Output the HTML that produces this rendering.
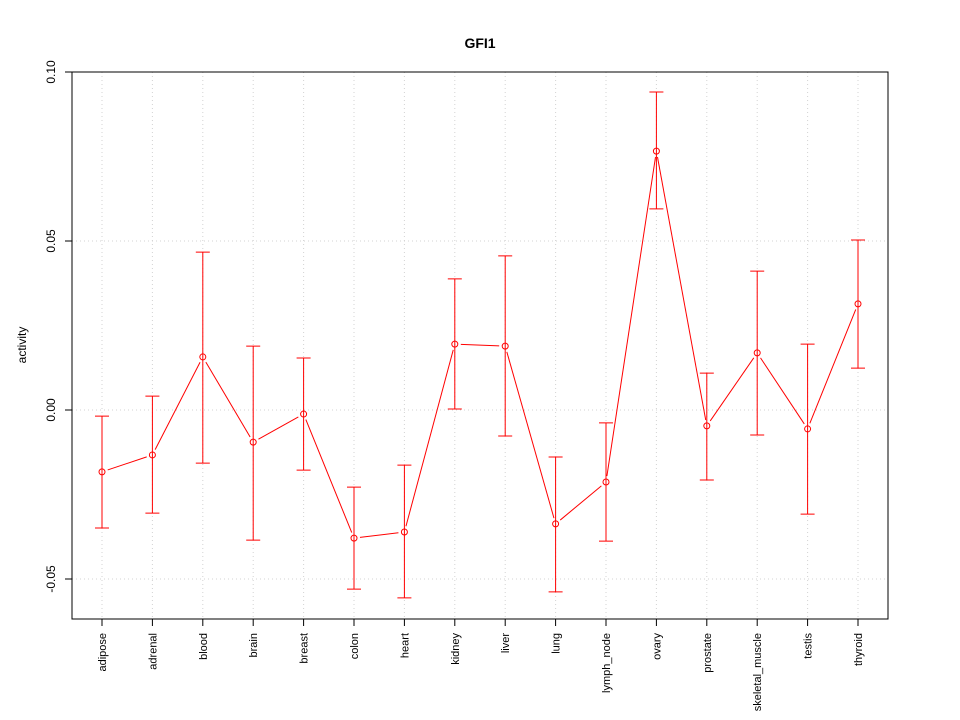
<!DOCTYPE html>
<html><head><meta charset="utf-8"><style>
html,body{margin:0;padding:0;background:#fff;}
svg{display:block;font-family:"Liberation Sans",sans-serif;}
</style></head><body>
<svg id="chart" width="960" height="720" xmlns="http://www.w3.org/2000/svg">
<text x="480" y="48" text-anchor="middle" font-size="14" font-weight="bold">GFI1</text>
<text transform="translate(26,345) rotate(-90)" text-anchor="middle" font-size="12">activity</text>
<g id="grid"></g>
<g id="yaxis"></g>
<g id="xaxis"></g>
<g id="series"></g>
<rect x="72" y="72" width="816" height="547" fill="none" stroke="#000"/>
</svg>
<script>
const categories = ["adipose","adrenal","blood","brain","breast","colon","heart","kidney","liver","lung","lymph_node","ovary","prostate","skeletal_muscle","testis","thyroid"];
const values = [-0.0183,-0.0133,0.0157,-0.0095,-0.0012,-0.0379,-0.0361,0.0195,0.0189,-0.0337,-0.0213,0.0766,-0.0047,0.0169,-0.0056,0.0314];
const upper = [-0.0018,0.0041,0.0467,0.0189,0.0154,-0.0228,-0.0163,0.0388,0.0456,-0.0139,-0.0038,0.0941,0.0109,0.0411,0.0195,0.0503];
const lower = [-0.0349,-0.0305,-0.0157,-0.0385,-0.0178,-0.0530,-0.0556,0.0003,-0.0077,-0.0538,-0.0388,0.0595,-0.0207,-0.0074,-0.0308,0.0124];
const yTicks = [-0.05,0,0.05,0.10];
const yTickLabels = ["-0.05","0.00","0.05","0.10"];

const NS="http://www.w3.org/2000/svg";
const yScale = v => 410 - v*3380;
const xScale = i => 102 + i*(756/(categories.length-1));
function mk(tag, attrs, parent){const e=document.createElementNS(NS,tag);for(const k in attrs)e.setAttribute(k,attrs[k]);parent.appendChild(e);return e;}
const grid=document.getElementById('grid'), ya=document.getElementById('yaxis'), xa=document.getElementById('xaxis'), s=document.getElementById('series');

categories.forEach((c,i)=>{
  const x=xScale(i);
  const g=mk('line',{x1:x,x2:x,y1:72,y2:619,stroke:'#d3d3d3','stroke-dasharray':'1,3'},grid);
  
  
  const t=mk('line',{x1:x,x2:x,y1:619,y2:626,stroke:'#000'},xa);
  
  
  const l=mk('text',{transform:`translate(${x+4},633) rotate(-90)`,'text-anchor':'end','font-size':'11'},xa);
  l.textContent=c;
  
  
});
yTicks.forEach((v,i)=>{
  const y=yScale(v);
  const g=mk('line',{x1:72,x2:888,y1:y,y2:y,stroke:'#d3d3d3','stroke-dasharray':'1,3'},grid);
  
  
  const t=mk('line',{x1:65,x2:72,y1:y,y2:y,stroke:'#000'},ya);
  
  
  const l=mk('text',{transform:`translate(55,${y}) rotate(-90)`,'text-anchor':'middle','font-size':'12'},ya);
  l.textContent=yTickLabels[i];
  
  
});
mk('line',{x1:72,x2:72,y1:yScale(yTicks[0]),y2:yScale(yTicks[yTicks.length-1]),stroke:'#000'},ya);

const red='#ff0000';
for(let i=0;i<values.length-1;i++){
  const x1=xScale(i),y1=yScale(values[i]),x2=xScale(i+1),y2=yScale(values[i+1]);
  const dx=x2-x1,dy=y2-y1,d=Math.hypot(dx,dy),g=6;
  if(d>2*g){
    const ln=mk('line',{x1:x1+dx*g/d,y1:y1+dy*g/d,x2:x2-dx*g/d,y2:y2-dy*g/d,stroke:red},s);
    
    
  }
}
values.forEach((v,i)=>{
  const x=xScale(i),yu=yScale(upper[i]),yl=yScale(lower[i]);
  const e=mk('path',{d:`M${x},${yu}V${yl}M${x-7},${yu}H${x+7}M${x-7},${yl}H${x+7}`,stroke:red,fill:'none'},s);
  
  
  const p=mk('circle',{cx:x,cy:yScale(v),r:3,fill:'none',stroke:red},s);
  
  
});
</script>
</body></html>
